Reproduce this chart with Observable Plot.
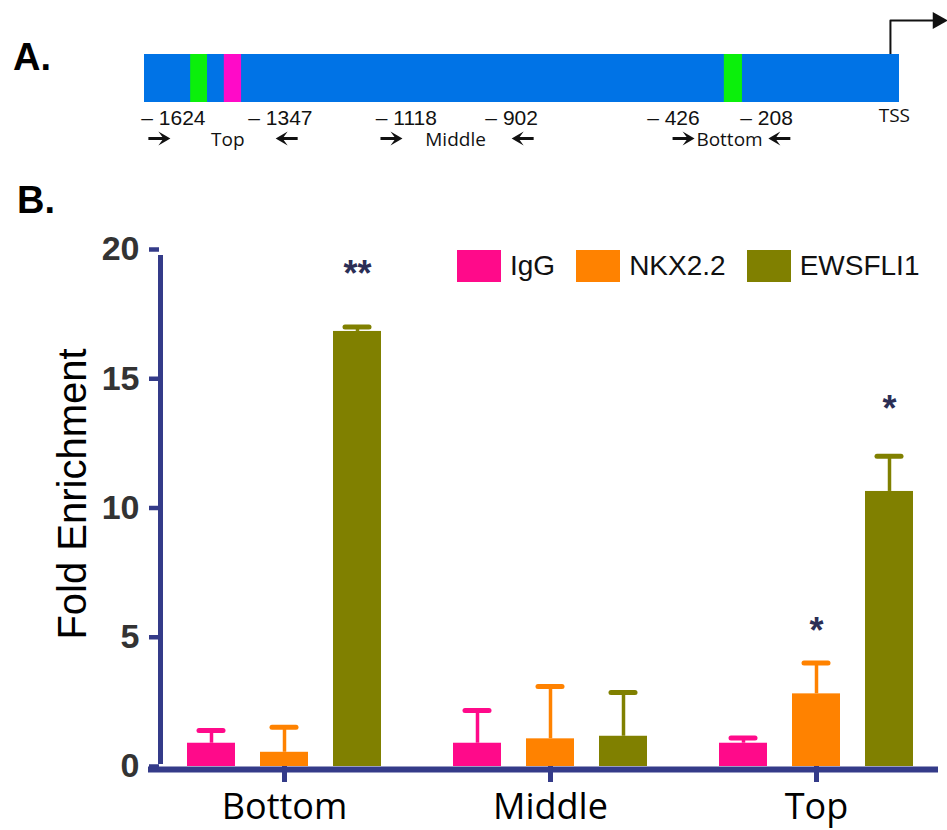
<!DOCTYPE html>
<html><head><meta charset="utf-8">
<script src="https://cdn.jsdelivr.net/npm/d3@7"></script>
<script src="https://cdn.jsdelivr.net/npm/@observablehq/plot@0.6"></script>
<style>
html,body{margin:0;padding:0;background:#fff;}
#root{position:relative;width:947px;height:830px;overflow:hidden;font-family:"Liberation Sans",Arial,sans-serif;}
.tag{position:absolute;font:bold 38px/1 "Liberation Sans",Arial,sans-serif;color:#000;}
#legend{position:absolute;left:457px;top:250px;}
.lg-swatches{font-family:"Liberation Sans",Arial,sans-serif !important;font-size:28px !important;margin:0 !important;color:#111;}
.lg-swatches-wrap{min-height:32px !important;}
.lg-swatch{margin-right:21px !important;}
.lg-swatch > svg{margin-right:9px !important;}
</style></head>
<body><div id="root"></div>
<script>
// ---------- Panel B data ----------
const groups = ["Bottom", "Middle", "Top"];
const series = ["IgG", "NKX2.2", "EWSFLI1"];
const colors = ["#ff0a8a", "#ff8200", "#808000"];
const iggMean = [0.90, 0.90, 0.90];
const iggErr  = [0.49, 1.27, 0.20];
const nkxMean = [0.55, 1.07, 2.81];
const nkxErr  = [0.97, 2.02, 1.19];
const ewsMean = [16.83, 1.17, 10.64];
const ewsErr  = [0.17, 1.69, 1.36];
const yTicks = [0, 5, 10, 15, 20];
const sigGroup  = ["Bottom", "Top", "Top"];
const sigSeries = ["EWSFLI1", "NKX2.2", "EWSFLI1"];
const sigText   = ["**", "*", "*"];
const sigY      = [18.6, 4.76, 13.35];

// ---------- Panel A data (schematic, bp relative to TSS) ----------
const promoterStart = -1750, tss = 0;
const siteStart = [-1643, -1565, -406];
const siteEnd   = [-1604, -1525, -364];
const siteColor = ["#0bf00b", "#ff0ac8", "#0bf00b"];
const coordLabels = ["– 1624", "– 1347", "– 1118", "– 902", "– 426", "– 208"];
const coordPos    = [-1683, -1435, -1143, -899, -524, -308];
const primerNames = ["Top", "Middle", "Bottom"];
const primerPos   = [-1557, -1029, -394];
const fwdPos      = [-1741, -1203, -526];
const revPos      = [-1395, -848, -253];
const tssLabelPos = -12;
const tssArrowX = -21, tssArrowEnd = 77;
const track = {top: 5.4, bottom: 10.2, coord: 12.45, tssText: 12.1, arrow: 13.8, primer: 14.5, tssArrow: 2.0};

const navy = "#343b89";
const root = document.getElementById("root");

// ---------- Panel A ----------
const primerArrow = {
  draw(ctx, l) {
    const h = 11, w = 7, t = 1.5;
    ctx.moveTo(-t, 0);
    ctx.lineTo(-t, -l + h - 3);
    ctx.lineTo(-w, -l + h + 1);
    ctx.lineTo(0, -l);
    ctx.lineTo(w, -l + h + 1);
    ctx.lineTo(t, -l + h - 3);
    ctx.lineTo(t, 0);
    ctx.closePath();
  }
};
const tssHead = {
  draw(ctx, l, r) {
    ctx.moveTo(-r, 0); ctx.lineTo(0, -l); ctx.lineTo(r, 0); ctx.closePath();
  }
};
const sites = siteStart.map((s, i) => ({start: s, end: siteEnd[i], color: siteColor[i], y1: track.top, y2: track.bottom}));
const coords = coordLabels.map((t, i) => ({text: t, x: coordPos[i], y: track.coord}));
const primers = primerNames.map((n, i) => ({name: n, x: primerPos[i], fwd: fwdPos[i], rev: revPos[i], y: track.primer, ya: track.arrow}));
const tssPath = [{x: tssArrowX, y: track.top}, {x: tssArrowX, y: track.tssArrow}, {x: tssArrowEnd, y: track.tssArrow}];

const A = Plot.plot({
  width: 947, height: 170, marginLeft: 144, marginRight: 48, marginTop: 0, marginBottom: 0,
  style: {background: "transparent", overflow: "visible"},
  x: {domain: [promoterStart, tss], axis: null},
  y: {domain: [0, 17], range: [0, 170], axis: null},
  marks: [
    Plot.line(tssPath, {x: "x", y: "y", stroke: "#111", strokeWidth: 2}),
    Plot.vector([{x: tssArrowEnd, y: track.tssArrow}], {x: "x", y: "y", length: 15, rotate: 90, anchor: "start", r: 8.5, shape: tssHead, fill: "#111", stroke: "none"}),
    Plot.rect([{start: promoterStart, end: tss, y1: track.top, y2: track.bottom}], {x1: "start", x2: "end", y1: "y1", y2: "y2", fill: "#0073e6"}),
    Plot.rect(sites, {x1: "start", x2: "end", y1: "y1", y2: "y2", fill: "color"}),
    Plot.text(coords, {x: "x", y: "y", text: "text", lineAnchor: "bottom", fontSize: 21, fontFamily: "Liberation Sans, Arial, sans-serif", fill: "#111"}),
    Plot.text([{x: tssLabelPos, y: track.tssText}], {x: "x", y: "y", text: () => "TSS", lineAnchor: "bottom", fontSize: 19, fontFamily: "Open Sans, sans-serif", fill: "#111"}),
    Plot.text(primers, {x: "x", y: "y", text: "name", lineAnchor: "bottom", fontSize: 19, fontFamily: "Open Sans, sans-serif", fill: "#111"}),
    Plot.vector(primers, {x: "fwd", y: "ya", length: 22, rotate: 90, anchor: "start", shape: primerArrow, fill: "#111", stroke: "none"}),
    Plot.vector(primers, {x: "rev", y: "ya", length: 22, rotate: -90, anchor: "start", shape: primerArrow, fill: "#111", stroke: "none"})
  ]
});
A.style.position = "absolute"; A.style.left = "0px"; A.style.top = "0px";
root.appendChild(A);

// ---------- Panel B ----------
const means = [iggMean, nkxMean, ewsMean];
const errs = [iggErr, nkxErr, ewsErr];
const rows = series.flatMap((s, k) => groups.map((g, i) => ({group: g, series: s, mean: means[k][i], err: errs[k][i]})));
const sig = sigText.map((t, i) => ({group: sigGroup[i], series: sigSeries[i], text: t, y: sigY[i]}));
const barStep = 73;

const seriesMarks = series.flatMap((s, k) => {
  const d = rows.filter(r => r.series === s);
  const dx = (k - 1) * barStep;
  return [
    Plot.ruleX(d, {x: "group", y1: "mean", y2: r => r.mean + r.err, dx, stroke: colors[k], strokeWidth: 3.5}),
    Plot.tickY(d, {x: "group", y: r => r.mean + r.err, dx, insetLeft: 121, insetRight: 121, stroke: colors[k], strokeWidth: 5, strokeLinecap: "round"}),
    Plot.barY(d, {x: "group", y: "mean", dx, insetLeft: 109, insetRight: 109, fill: colors[k]}),
    Plot.text(sig.filter(r => r.series === s), {x: "group", y: "y", text: "text", dx, lineAnchor: "bottom", fontSize: 36, fontWeight: "bold", fontFamily: "Liberation Sans, Arial, sans-serif", fill: "#2b2e55"})
  ];
});

const B = Plot.plot({
  width: 947, height: 660, marginLeft: 148, marginRight: 9, marginTop: 79, marginBottom: 64,
  style: {background: "transparent", overflow: "visible"},
  x: {domain: groups, range: [150, 949], padding: 0},
  y: {domain: [0, 20]},
  marks: [
    ...seriesMarks,
    Plot.ruleY([0], {dy: 3, stroke: navy, strokeWidth: 6}),
    Plot.ruleX([groups[0]], {x: d => d, dx: -124, y1: 0, y2: 20, insetTop: -2, insetBottom: -6, stroke: navy, strokeWidth: 5}),
    Plot.axisY(yTicks, {anchor: "left", dx: 11, tickSize: 10, tickPadding: 10, stroke: navy, strokeWidth: 4.5, fill: "#333", fontSize: 34, fontWeight: "bold", fontFamily: "Liberation Sans, Arial, sans-serif", label: null}),
    Plot.axisX({anchor: "bottom", tickSize: 16, tickPadding: 11, stroke: navy, strokeWidth: 5, fill: "#000", fontSize: 36, fontFamily: "Open Sans, sans-serif", label: null}),
    Plot.text(["Fold Enrichment"], {frameAnchor: "left", textAnchor: "middle", rotate: -90, dx: -75, dy: -14, fontSize: 40, fontFamily: "Liberation Sans, Arial, sans-serif", fill: "#000"})
  ]
});
B.style.position = "absolute"; B.style.left = "0px"; B.style.top = "170px";
root.appendChild(B);

// Legend
const leg = Plot.legend({color: {type: "ordinal", domain: series, range: colors}, swatchWidth: 44, swatchHeight: 32, className: "lg"});
const legWrap = document.createElement("div");
legWrap.id = "legend";
legWrap.appendChild(leg);
root.appendChild(legWrap);

// Panel tags
for (const [t, top] of [["A.", 38], ["B.", 181]]) {
  const el = document.createElement("div");
  el.className = "tag"; el.textContent = t;
  el.style.left = (t === "A." ? 13 : 17) + "px"; el.style.top = top + "px";
  root.appendChild(el);
}
</script>
</body></html>
